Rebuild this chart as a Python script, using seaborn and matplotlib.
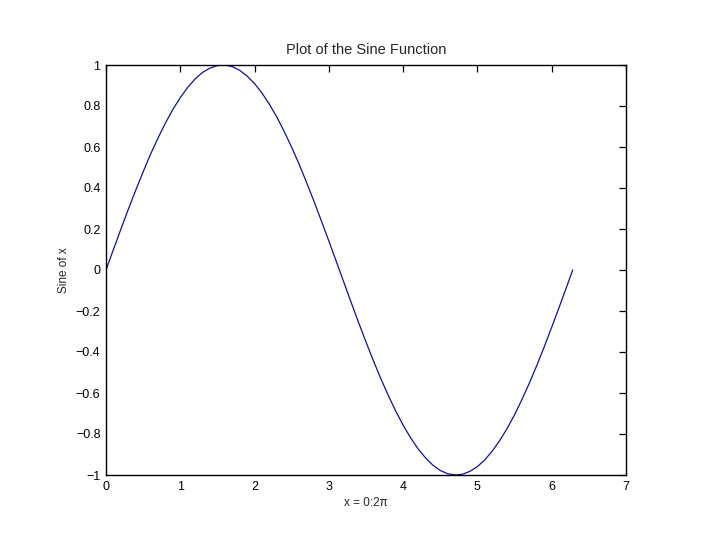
import matplotlib
matplotlib.use("Agg")
import matplotlib.pyplot as plt
import seaborn as sns
import pandas as pd

x_vals = [0.0, 0.1, 0.2, 0.3, 0.4, 0.5, 0.6, 0.7, 0.8, 0.9, 1.0, 1.1, 1.2, 1.3, 1.4, 1.5,
          1.571, 1.6, 1.7, 1.8, 1.9, 2.0, 2.1, 2.2, 2.3, 2.4, 2.5, 2.6, 2.7, 2.8, 2.9, 3.0,
          3.1, 3.2, 3.3, 3.4, 3.5, 3.6, 3.7, 3.8, 3.9, 4.0, 4.1, 4.2, 4.3, 4.4, 4.5, 4.6,
          4.712, 4.8, 4.9, 5.0, 5.1, 5.2, 5.3, 5.4, 5.5, 5.6, 5.7, 5.8, 5.9, 6.0, 6.1, 6.2,
          6.283]
y_vals = [0.000, 0.100, 0.199, 0.296, 0.389, 0.479, 0.565, 0.644, 0.717, 0.783, 0.841, 0.891,
          0.932, 0.964, 0.985, 0.997, 1.000, 1.000, 0.992, 0.974, 0.946, 0.909, 0.863, 0.808,
          0.746, 0.675, 0.598, 0.516, 0.427, 0.335, 0.239, 0.141, 0.042, -0.058, -0.158,
          -0.256, -0.351, -0.443, -0.530, -0.612, -0.688, -0.757, -0.818, -0.872, -0.916,
          -0.952, -0.978, -0.994, -1.000, -0.996, -0.982, -0.959, -0.926, -0.883, -0.832,
          -0.773, -0.706, -0.631, -0.551, -0.465, -0.374, -0.279, -0.182, -0.083, 0.000]
x_ticks = [0, 1, 2, 3, 4, 5, 6, 7]
y_ticks = [-1, -0.8, -0.6, -0.4, -0.2, 0, 0.2, 0.4, 0.6, 0.8, 1]
y_tick_labels = ["\u22121", "\u22120.8", "\u22120.6", "\u22120.4", "\u22120.2", "0",
                 "0.2", "0.4", "0.6", "0.8", "1"]

sns.set_style("white")
plt.rcParams['font.family'] = ['Liberation Sans', 'DejaVu Sans']

df = pd.DataFrame({"x": x_vals, "y": y_vals})

fig = plt.figure(figsize=(7.2, 5.4), dpi=100)
ax = fig.add_axes([106/720, 1 - 475/540, 520/720, 410/540])
sns.lineplot(data=df, x="x", y="y", ax=ax, sort=False, color="#1010a0", linewidth=0.9)

ax.set_xlim(0, 7)
ax.set_ylim(-1, 1)
ax.set_xticks(x_ticks)
ax.set_xticklabels([str(t) for t in x_ticks])
ax.set_yticks(y_ticks)
ax.set_yticklabels(y_tick_labels)
ax.tick_params(direction="in", length=5, width=0.9, top=True, right=True,
               labelsize=9, colors="black", pad=4)
for s in ax.spines.values():
    s.set_visible(True)
    s.set_color("black")
    s.set_linewidth(1.0)

ax.set_title("Plot of the Sine Function", fontsize=10.5, pad=8)
ax.set_xlabel("x = 0:2\u03c0", fontsize=8.5, labelpad=3)
ax.set_ylabel("Sine of x", fontsize=8.5, labelpad=4)

fig.savefig("out.png", dpi=100, facecolor="white")
